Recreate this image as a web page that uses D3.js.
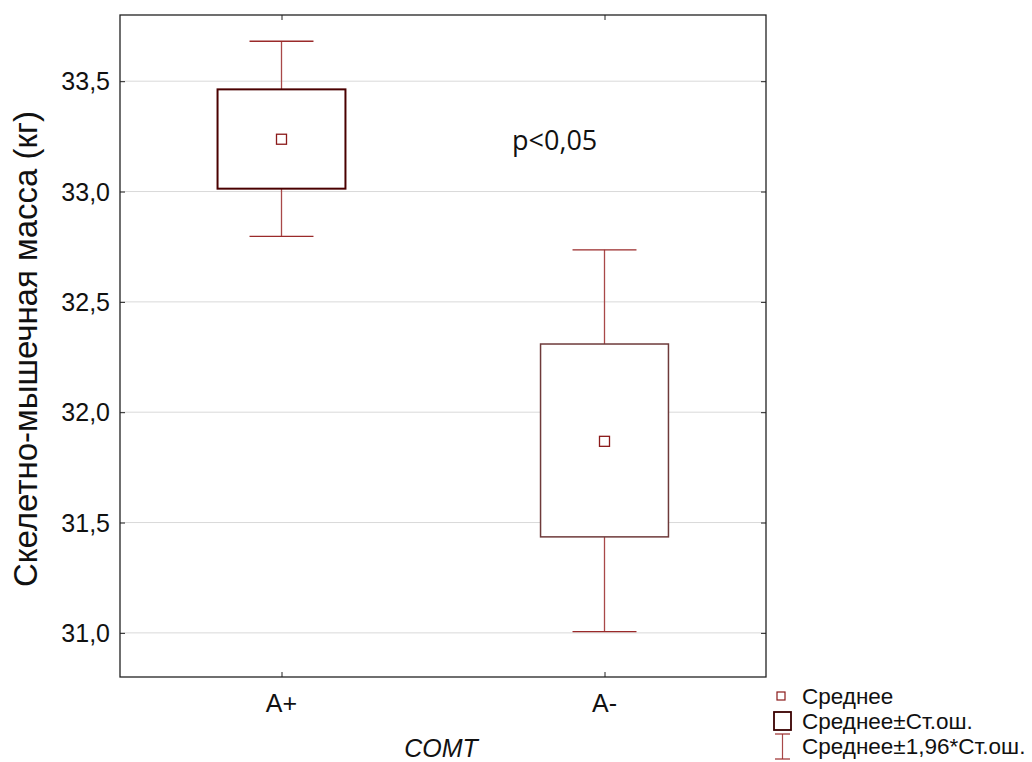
<!DOCTYPE html>
<html>
<head>
<meta charset="utf-8">
<script src="https://cdn.jsdelivr.net/npm/d3@7"></script>
<style>
	body { margin: 0; background: #fff; }
	svg { display: block; font-family: 'Liberation Sans', Arial, sans-serif; }
</style>
</head>
<body>
<svg id="chart" width="1032" height="762"></svg>
<script>
const groups = [ 'A+', 'A-' ];
const means = [ 33.237, 31.868 ];
const seLow = [ 33.013, 31.435 ];
const seHigh = [ 33.463, 32.309 ];
const ciLow = [ 32.797, 31.006 ];
const ciHigh = [ 33.681, 32.736 ];
const yTicks = [ 31.0, 31.5, 32.0, 32.5, 33.0, 33.5 ];
const legendLabels = [ 'Среднее', 'Среднее±Ст.ош.', 'Среднее±1,96*Ст.ош.' ];

const ChartView = {
	margin: { top: 15, right: 266, bottom: 85, left: 120 },
	width: 1032, height: 762,
	xScale: null, yScale: null,
	svg: null,

	init: function() {
		const self = this;
		let margin = self.margin;

		self.svg = d3.select('#chart');
		self.xScale = d3.scalePoint()
			.domain(groups)
			.range([ margin.left, self.width - margin.right ])
			.padding(0.5);
		self.yScale = d3.scaleLinear()
			.domain([ 30.8, 33.8 ])
			.range([ self.height - margin.bottom, margin.top ]);

		self.drawGrid();
		self.drawBoxes();
		self.drawAxes();
		self.drawLabels();
		self.drawLegend();
	},

	drawGrid: function() {
		const self = this;
		let margin = self.margin;

		self.svg.append('g').selectAll('line')
			.data(yTicks)
			.enter().append('line')
			.attr('x1', margin.left)
			.attr('x2', self.width - margin.right)
			.attr('y1', d => self.yScale(d))
			.attr('y2', d => self.yScale(d))
			.style('stroke', '#d9d9d9')
			.style('stroke-width', 1);
	},

	drawBoxes: function() {
		const self = this;
		let xScale = self.xScale;
		let yScale = self.yScale;
		let boxW = xScale.step() * 0.396;
		let capW = boxW / 2;
		let g = self.svg.append('g');

		groups.forEach(function(grp, i) {
			let cx = xScale(grp);
			// whiskers
			g.append('line')
				.attr('x1', cx).attr('x2', cx)
				.attr('y1', yScale(ciHigh[i])).attr('y2', yScale(seHigh[i]))
				.style('stroke', '#a84848').style('stroke-width', 1.3);
			g.append('line')
				.attr('x1', cx).attr('x2', cx)
				.attr('y1', yScale(seLow[i])).attr('y2', yScale(ciLow[i]))
				.style('stroke', '#a84848').style('stroke-width', 1.3);
			[ ciHigh[i], ciLow[i] ].forEach(function(v) {
				g.append('line')
					.attr('x1', cx - capW / 2).attr('x2', cx + capW / 2)
					.attr('y1', yScale(v)).attr('y2', yScale(v))
					.style('stroke', '#9a2a2a').style('stroke-width', 1.3);
			});
			// box
			g.append('rect')
				.attr('x', cx - boxW / 2)
				.attr('y', yScale(seHigh[i]))
				.attr('width', boxW)
				.attr('height', yScale(seLow[i]) - yScale(seHigh[i]))
				.style('fill', '#fff')
				.style('stroke', i == 0 ? '#4a0000' : '#6e3a3a')
				.style('stroke-width', i == 0 ? 2 : 1.5);
			// mean
			g.append('rect')
				.attr('x', cx - 5)
				.attr('y', yScale(means[i]) - 5)
				.attr('width', 10)
				.attr('height', 10)
				.style('fill', '#fff')
				.style('stroke', '#8b1a1a')
				.style('stroke-width', 1.3);
		});
	},

	drawAxes: function() {
		const self = this;
		let margin = self.margin;
		let x0 = margin.left, x1 = self.width - margin.right;
		let y0 = margin.top, y1 = self.height - margin.bottom;
		let fmt = d => d3.format('.1f')(d).replace('.', ',');

		let left = self.svg.append('g')
			.attr('transform', 'translate(' + x0 + ',0)')
			.call(d3.axisRight(self.yScale).tickValues(yTicks).tickSize(5).tickFormat(''));
		let right = self.svg.append('g')
			.attr('transform', 'translate(' + x1 + ',0)')
			.call(d3.axisLeft(self.yScale).tickValues(yTicks).tickSize(5).tickFormat(''));
		let top = self.svg.append('g')
			.attr('transform', 'translate(0,' + y0 + ')')
			.call(d3.axisBottom(self.xScale).tickSize(5).tickFormat(''));
		let bottom = self.svg.append('g')
			.attr('transform', 'translate(0,' + y1 + ')')
			.call(d3.axisTop(self.xScale).tickSize(5).tickFormat(''));
		[ left, right, top, bottom ].forEach(function(a) {
			a.select('.domain').remove();
			a.selectAll('line').style('stroke', '#222');
		});

		self.svg.append('rect')
			.attr('x', x0).attr('y', y0)
			.attr('width', x1 - x0).attr('height', y1 - y0)
			.style('fill', 'none')
			.style('stroke', '#222')
			.style('stroke-width', 1.3);

		self.svg.append('g').selectAll('text')
			.data(yTicks)
			.enter().append('text')
			.attr('x', x0 - 10)
			.attr('y', d => self.yScale(d))
			.attr('dy', '0.36em')
			.style('text-anchor', 'end')
			.style('font-size', '25px')
			.style('fill', '#111')
			.text(fmt);

		self.svg.append('g').selectAll('text')
			.data(groups)
			.enter().append('text')
			.attr('x', d => self.xScale(d))
			.attr('y', 712)
			.style('text-anchor', 'middle')
			.style('font-size', '25px')
			.style('fill', '#111')
			.text(d => d);
	},

	drawLabels: function() {
		const self = this;

		self.svg.append('text')
			.attr('transform', 'translate(37,349) rotate(-90)')
			.style('text-anchor', 'middle')
			.style('font-size', '33px')
			.style('fill', '#111')
			.text('Скелетно-мышечная масса (кг)');

		self.svg.append('text')
			.attr('x', 441)
			.attr('y', 757)
			.style('text-anchor', 'middle')
			.style('font-size', '25px')
			.style('font-style', 'italic')
			.style('fill', '#111')
			.text('COMT');

		self.svg.append('text')
			.attr('x', 512)
			.attr('y', 150)
			.style('font-family', "'Open Sans', sans-serif")
			.style('font-size', '27px')
			.style('fill', '#111')
			.text('p<0,05');
	},

	drawLegend: function() {
		const self = this;
		let g = self.svg.append('g');
		let rows = [ 696, 721, 746 ];

		// mean marker
		g.append('rect')
			.attr('x', 777).attr('y', rows[0] - 4)
			.attr('width', 8).attr('height', 8)
			.style('fill', '#fff').style('stroke', '#8b1a1a').style('stroke-width', 1.2);
		// box marker
		g.append('rect')
			.attr('x', 774).attr('y', rows[1] - 9)
			.attr('width', 17).attr('height', 18)
			.style('fill', '#fff').style('stroke', '#3a0000').style('stroke-width', 1.8);
		// whisker marker
		g.append('line')
			.attr('x1', 782.5).attr('x2', 782.5).attr('y1', rows[2] - 12).attr('y2', rows[2] + 13)
			.style('stroke', '#a84848').style('stroke-width', 1.2);
		[ rows[2] - 12, rows[2] + 13 ].forEach(function(y) {
			g.append('line')
				.attr('x1', 775).attr('x2', 790).attr('y1', y).attr('y2', y)
				.style('stroke', '#9a2a2a').style('stroke-width', 1.2);
		});

		g.selectAll('text')
			.data(legendLabels)
			.enter().append('text')
			.attr('x', 802)
			.attr('y', (d, i) => rows[i])
			.attr('dy', '0.36em')
			.style('font-size', '22.5px')
			.style('fill', '#111')
			.text(d => d);
	}
};

ChartView.init();
</script>
</body>
</html>
